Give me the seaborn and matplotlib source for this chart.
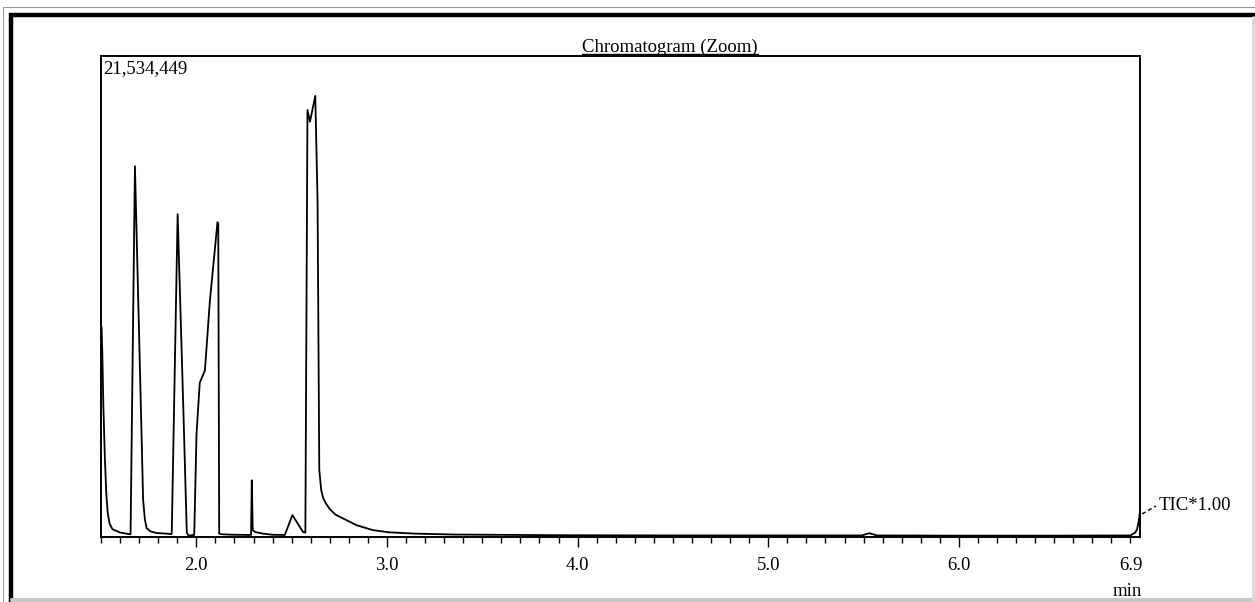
import numpy as np
import pandas as pd
import matplotlib
matplotlib.use("Agg")
import matplotlib.pyplot as plt
from matplotlib.lines import Line2D
from matplotlib.ticker import FixedLocator
import seaborn as sns

# ---- data (retention time in min, intensity in million counts)
retention_min = [
    1.503, 1.507, 1.512, 1.520, 1.528, 1.535, 1.545, 1.560, 1.600, 1.655,
    1.678, 1.700, 1.721, 1.730, 1.739, 1.760, 1.791, 1.860, 1.871,
    1.902, 1.930, 1.950, 1.959, 1.975, 1.989,
    2.001, 2.018, 2.045, 2.071, 2.111, 2.115, 2.120, 2.135, 2.200, 2.287,
    2.291, 2.296, 2.310, 2.350, 2.400, 2.464,
    2.504, 2.560, 2.572,
    2.583, 2.596, 2.624, 2.636, 2.645, 2.655, 2.665, 2.680, 2.700, 2.730,
    2.770, 2.840, 2.925,
    3.010, 3.150, 3.350, 3.900, 4.500, 5.000, 5.490, 5.530, 5.570,
    6.000, 6.500, 6.900, 6.925, 6.935, 6.945, 6.950,
]
intensity_mcounts = [
    9.40, 8.20, 6.00, 3.60, 1.90, 1.10, 0.60, 0.35, 0.20, 0.12,
    16.60, 9.00, 1.65, 0.80, 0.40, 0.25, 0.18, 0.14, 0.13,
    14.45, 6.30, 0.20, 0.06, 0.08, 0.09,
    4.60, 6.91, 7.45, 10.56, 14.09, 14.00, 0.15, 0.12, 0.10, 0.09,
    2.54, 0.30, 0.22, 0.15, 0.10, 0.09,
    0.98, 0.22, 0.20,
    19.12, 18.59, 19.75, 15.00, 3.00, 2.10, 1.75, 1.50, 1.25, 1.00,
    0.83, 0.53, 0.31,
    0.21, 0.15, 0.11, 0.08, 0.07, 0.07, 0.07, 0.17, 0.07,
    0.06, 0.06, 0.07, 0.20, 0.35, 0.80, 1.15,
]
full_scale_counts = 21534449
full_scale_label = "21,534,449"
major_ticks = [2.0, 3.0, 4.0, 5.0, 6.0, 6.9]
major_labels = ["2.0", "3.0", "4.0", "5.0", "6.0", "6.9"]
x_range = (1.5, 6.95)
title_text = "Chromatogram (Zoom)"
trace_label = "TIC*1.00"
unit_label = "min"

# ---- style
sns.set_theme(style="ticks")
plt.rcParams['font.family'] = ['Liberation Serif', 'DejaVu Serif']

W, H = 1255, 602
fig = plt.figure(figsize=(W / 100, H / 100), dpi=100)
fig.patch.set_facecolor("white")


def fx(px):
    return px / W


def fy(py):
    return 1 - py / H


ax = fig.add_axes([fx(101), fy(537), fx(1140) - fx(101), fy(56) - fy(537)])
ax.set_facecolor("white")

df = pd.DataFrame({"t": retention_min,
                   "I": np.array(intensity_mcounts) * 1e6})
sns.lineplot(data=df, x="t", y="I", ax=ax, estimator=None, sort=False,
             color="black", lw=1.3)

ax.set_xlim(*x_range)
ax.set_ylim(0, full_scale_counts)
ax.set_xlabel("")
ax.set_ylabel("")
ax.set_yticks([])
ax.xaxis.set_major_locator(FixedLocator(major_ticks))
ax.set_xticklabels(major_labels)
ax.xaxis.set_minor_locator(FixedLocator(np.round(np.arange(1.5, 6.95, 0.1), 2)))
ax.tick_params(axis='x', which='major', direction='out', length=7.5, width=1.0,
               pad=7, labelsize=13.5, colors='black')
ax.tick_params(axis='x', which='minor', direction='out', length=4, width=1.0,
               colors='black')
ax.xaxis.get_major_ticks()[-1].tick1line.set_markersize(4)
for s in ax.spines.values():
    s.set_linewidth(1.4)
    s.set_color('black')

# ---- texts
fig.text(fx(103), fy(60), full_scale_label, ha='left', va='top',
         fontsize=13.5, color='black')
t = fig.text(fx(670), fy(52), title_text, ha='center', va='baseline',
             fontsize=13.5, color='black')
fig.text(fx(1127), fy(591), unit_label, ha='center', va='center',
         fontsize=13.5, color='black')
fig.text(fx(1159), fy(505), trace_label, ha='left', va='center',
         fontsize=13.5, color='black')
fig.add_artist(Line2D([fx(1142), fx(1156)], [fy(514), fy(506)],
                      transform=fig.transFigure, color='black', lw=1.0,
                      ls=(0, (3, 2))))

# underline for the title
fig.canvas.draw()
bb = t.get_window_extent(fig.canvas.get_renderer())
fig.add_artist(Line2D([bb.x0 / W, bb.x1 / W], [fy(53.5), fy(53.5)],
                      transform=fig.transFigure, color='black', lw=1.0))

# ---- outer frame of the picture (black left/top edges, soft shadow bottom/right)
fig.add_artist(Line2D([fx(10.5), fx(10.5), fx(1255)], [fy(602), fy(15), fy(15)],
                      transform=fig.transFigure, color='black', lw=3.2,
                      solid_joinstyle='miter'))
fig.add_artist(Line2D([fx(3), fx(3), fx(1255)], [fy(602), fy(7), fy(7)],
                      transform=fig.transFigure, color='#9a9a9a', lw=0.8))
fig.add_artist(Line2D([fx(12), fx(1255)], [fy(600), fy(600)],
                      transform=fig.transFigure, color='#c8c8c8', lw=3))
fig.add_artist(Line2D([fx(1253), fx(1253)], [fy(17), fy(600)],
                      transform=fig.transFigure, color='#d8d8d8', lw=2))

fig.savefig("out.png", dpi=100)
